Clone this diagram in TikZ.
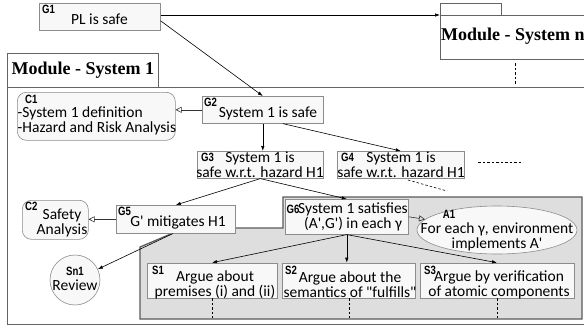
\documentclass[tikz,border=0pt]{standalone}
\usepackage{fontspec}
\setmainfont{Carlito}
\newfontfamily\lblfont{Liberation Sans}[FakeStretch=0.8]
\newfontfamily\modfont{Liberation Serif}
\usetikzlibrary{shapes.geometric,arrows.meta,calc}
\definecolor{boxline}{RGB}{140,140,140}
\definecolor{boxfill}{RGB}{248,248,248}
\definecolor{regfill}{RGB}{222,222,222}
\definecolor{regline}{RGB}{90,90,90}
\definecolor{frameline}{RGB}{100,100,100}
\tikzset{
  body/.style={font=\fontsize{15.5}{15}\selectfont, inner sep=0pt, align=center},
  lbl/.style={font=\lblfont\bfseries\fontsize{12}{12}\selectfont, inner sep=0pt},
  gbox/.style={draw=boxline, fill=boxfill, line width=0.6pt, inner sep=0pt, anchor=north west},
  ctx/.style={gbox, rounded corners=9pt},
  sbox/.style={draw=boxline, fill=boxfill, line width=0.6pt, shape=trapezium, trapezium left angle=80, trapezium right angle=100, trapezium stretches body=true, inner sep=0pt},
  modtitle/.style={font=\modfont\bfseries\fontsize{18}{18}\selectfont, inner sep=0pt},
  frame/.style={draw=frameline, line width=0.8pt, fill=white, inner sep=0pt, anchor=north west},
  arr/.style={draw=black, line width=0.6pt, -{Latex[length=5pt,width=3.5pt]}},
  carr/.style={draw=black!80, line width=0.6pt, -{Triangle[open,length=6pt,width=6pt]}},
  dsh/.style={draw=black, line width=0.6pt, dash pattern=on 2.5pt off 2pt},
}
\begin{document}
\begin{tikzpicture}[x=1pt,y=-1pt]
\useasboundingbox (0,0) rectangle (584,333);
\clip (0,0) rectangle (584,333);
\fill[white] (0,0) rectangle (584,333);
% Module n
\node[frame, minimum width=61, minimum height=12] (MNtab) at (440,3) {};
\node[frame, minimum width=170, minimum height=44] (MN) at (440,15) {};
\node[modtitle, anchor=west] (MNt) at (441,36) {Module - System n};
\coordinate (MNd1) at (515,63);
\coordinate (MNd2) at (515,84);
\draw[dsh] (MNd1) -- (MNd2);
% Module 1
\node[frame, minimum width=600, minimum height=237] (M1) at (7,87) {};
\node[frame, minimum width=151, minimum height=34] (M1tab) at (7,53) {};
\node[modtitle] (M1t) at (M1tab.center) {Module - System 1};
% grey region
\filldraw[fill=regfill, draw=regline, line width=1.2pt] (140,319) -- (140,247) -- (173,233) -- (235,228) -- (283,228) -- (283,197) -- (582,197) -- (582,319) -- cycle;
% G1
\node[gbox, minimum width=121, minimum height=27] (G1) at (39,3) {};
\node[body] (G1t) at (99.5,19) {PL is safe};
\node[lbl, anchor=north west] (G1l) at (42,5) {G1};
% G2
\node[gbox, minimum width=121, minimum height=27] (G2) at (202,96) {};
\node[body] (G2t) at (268,113) {System 1 is safe};
\node[lbl, anchor=north west] (G2l) at (204,97.5) {G2};
% C1
\node[ctx, minimum width=158, minimum height=48] (C1) at (17,92) {};
\node[body, align=left, anchor=west] (C1t) at (17.5,120.5) {-System 1 definition\\-Hazard and Risk Analysis};
\node[lbl, anchor=north west] (C1l) at (25,95) {C1};
% G3
\node[gbox, minimum width=126, minimum height=27] (G3) at (197,151) {};
\node[body] (G3t) at (260,164.5) {System 1 is\\safe w.r.t. hazard H1};
\node[lbl, anchor=west] (G3l) at (201,157.5) {G3};
% G4
\node[gbox, minimum width=127, minimum height=27] (G4) at (337,151) {};
\node[body] (G4t) at (401,164.5) {System 1 is\\safe w.r.t. hazard H1};
\node[lbl, anchor=west] (G4l) at (341,157.5) {G4};
\coordinate (G4d1) at (478,162);
\coordinate (G4d2) at (523,162);
\coordinate (G4d3) at (408,180);
\coordinate (G4d4) at (447,191);
\draw[dsh] (G4d1) -- (G4d2);
\draw[dsh] (G4d3) -- (G4d4);
% G5
\node[gbox, minimum width=119, minimum height=28] (G5) at (116,205) {};
\node[body] (G5t) at (178,222) {G\textquotesingle{} mitigates H1};
\node[lbl, anchor=north west] (G5l) at (118,206.5) {G5};
% C2
\node[ctx, minimum width=66, minimum height=39] (C2) at (22,200) {};
\node[body] (C2t) at (62,222.5) {Safety\\Analysis};
\node[lbl, anchor=north west] (C2l) at (25,202) {C2};
% Sn1
\node[circle, draw=boxline, fill=boxfill, line width=0.6pt, minimum size=50, inner sep=0pt] (Sn1) at (75,280) {};
\node[lbl] (Sn1l) at (75,271.5) {Sn1};
\node[body] (Sn1t) at (75,285) {Review};
% G6
\node[gbox, minimum width=123, minimum height=35] (G6) at (285,199) {};
\node[body] (G6t) at (353,217) {System 1 satisfies\\(A\textquotesingle,G\textquotesingle) in each γ};
\node[lbl, anchor=west] (G6l) at (286.5,209.5) {G6};
% A1
\node[ellipse, draw=boxline, fill=boxfill, line width=0.6pt, minimum width=160, minimum height=48, inner sep=0pt] (A1) at (497,230) {};
\node[lbl] (A1l) at (449,214) {A1};
\node[body] (A1t) at (497,236.5) {For each γ, environment\\implements A\textquotesingle};
% S nodes
\node[sbox, minimum width=130, minimum height=35] (S1) at (212,280.5) {};
\node[lbl] (S1l) at (158,270.5) {S1};
\node[body] (S1t) at (215,284.5) {Argue about\\premises (i) and (ii)};
\node[sbox, minimum width=133, minimum height=35] (S2) at (349,280.5) {};
\node[lbl] (S2l) at (291,270.5) {S2};
\node[body] (S2t) at (350,284.5) {Argue about the\\semantics of \textquotedbl fulfills\textquotedbl};
\node[sbox, minimum width=154, minimum height=35] (S3) at (497,280.5) {};
\node[lbl] (S3l) at (430,270) {S3};
\node[body] (S3t) at (499,285) {Argue by verification\\of atomic components};
\coordinate (S1d) at (212,318);
\coordinate (S2d) at (349,318);
\coordinate (S3d) at (497,318);
\draw[dsh] (S1.south) -- (S1d);
\draw[dsh] (S2.south) -- (S2d);
\draw[dsh] (S3.south) -- (S3d);
% connectors
\draw[arr] (G1.east |- MN.north west) -- (MN.north west);
\draw[arr] ($(G1.east)+(0,4)$) -- (G2.north);
\draw[carr] (G2.west) -- (C1.east |- G2.west);
\draw[arr] (G2.south) -- (G2.south |- G3.north);
\draw[arr] ($(G2.south)+(20,0)$) -- (G4.north);
\draw[arr] (G3.south) -- (G5.north);
\draw[arr] (G3.south) -- (G6.north);
\draw[carr] (G5.west) -- (C2.east |- G5.west);
\draw[arr] ($(G5.south)+(-3,0)$) -- (Sn1);
\draw[carr] (G6.east) -- (A1);
\draw[arr] (G6.south) -- (S1.north);
\draw[arr] (G6.south) -- (G6.south |- S2.north);
\draw[arr] (G6.south) -- (S3.north);
\end{tikzpicture}
\end{document}
